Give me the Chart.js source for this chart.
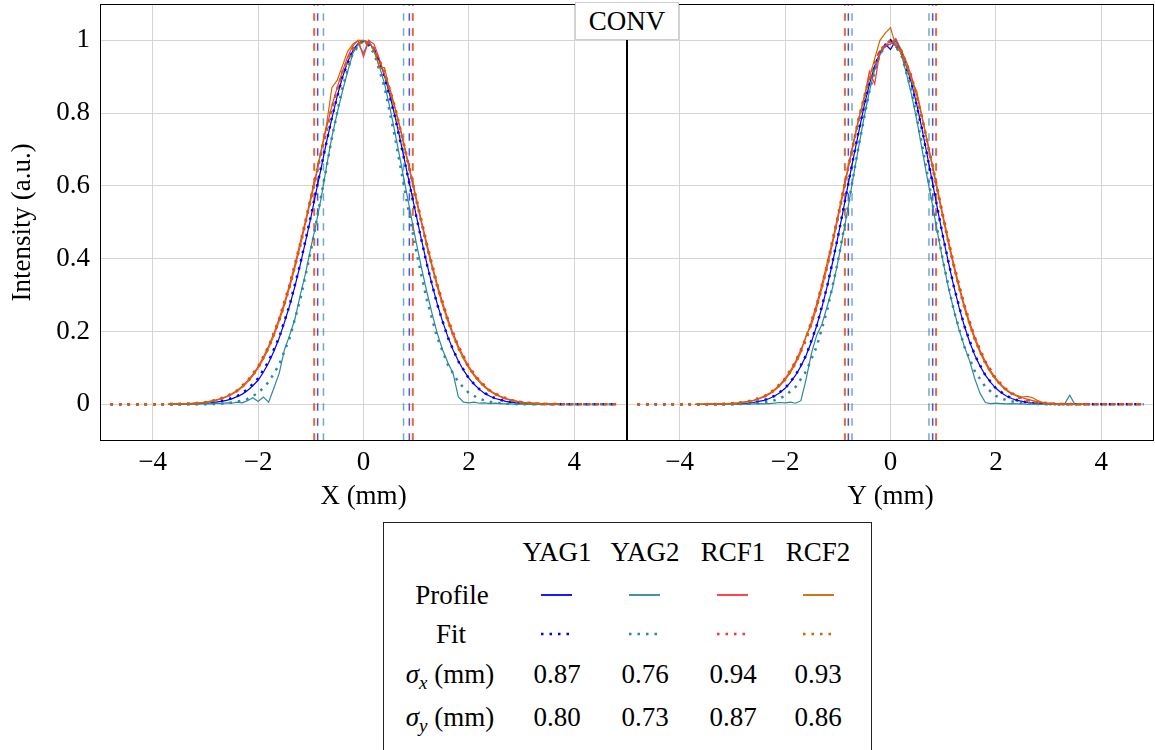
<!DOCTYPE html>
<html><head><meta charset="utf-8">
<script src="https://cdn.jsdelivr.net/npm/chart.js@4.4.1/dist/chart.umd.min.js"></script>
<style>
html,body{margin:0;padding:0;background:#fff;width:1155px;height:750px;overflow:hidden;font-family:'Liberation Serif','DejaVu Serif','Noto Serif',serif;color:#000;}
.wrap{position:absolute;top:0;}
#conv{position:absolute;left:575px;top:2px;width:104px;height:38px;box-sizing:border-box;background:#fff;border:1px solid #d0d0d0;font-size:27px;line-height:36px;text-align:center;}
#legend{position:absolute;left:383px;top:522px;width:489px;height:240px;box-sizing:border-box;border:1px solid #222;background:#fff;}
.cell{position:absolute;transform:translate(-50%,-50%);white-space:nowrap;font-size:27px;line-height:1;}
.sub{font-size:19px;position:relative;top:6px;font-style:italic;}
svg.s{position:absolute;overflow:visible;}
</style></head><body>
<div class="wrap" style="left:0;width:627px;height:520px"><canvas id="c1" width="627" height="520"></canvas></div>
<div class="wrap" style="left:627px;width:528px;height:520px"><canvas id="c2" width="528" height="520"></canvas></div>
<div id="conv">CONV</div>
<div id="legend"></div>
<script>
// ---------- data ----------
const xTicks = [-4, -2, 0, 2, 4];
const xTickLabels = ['\u22124', '\u22122', '0', '2', '4'];
const yTicks = [0, 0.2, 0.4, 0.6, 0.8, 1];
const yTickLabels = ['0', '0.2', '0.4', '0.6', '0.8', '1'];
const seriesNames = ['YAG1', 'YAG2', 'RCF1', 'RCF2'];
const sigmaX = [0.87, 0.76, 0.94, 0.93];
const sigmaY = [0.80, 0.73, 0.87, 0.86];

const profileXs = [-3.7,-3.6,-3.5,-3.4,-3.3,-3.2,-3.1,-3.0,-2.9,-2.8,
 -2.7,-2.6,-2.5,-2.4,-2.3,-2.2,-2.1,-2.0,-1.9,-1.8,
 -1.7,-1.6,-1.5,-1.4,-1.3,-1.2,-1.1,-1.0,-0.9,-0.8,
 -0.7,-0.6,-0.5,-0.4,-0.3,-0.2,-0.1,0,0.1,0.2,
 0.3,0.4,0.5,0.6,0.7,0.8,0.9,1.0,1.1,1.2,
 1.3,1.4,1.5,1.6,1.7,1.8,1.9,2.0,2.1,2.2,
 2.3,2.4,2.5,2.6,2.7,2.8,2.9,3.0,3.1,3.2,
 3.3,3.4,3.5,3.6,3.7];

// X profiles
const yag1ProfileX = [0,0,0,0,.001,.001,.002,.003,.004,.006,
 .008,.011,.015,.021,.028,.038,.051,.066,.088,.114,
 .146,.182,.225,.272,.325,.384,.447,.512,.583,.652,
 .722,.786,.846,.898,.942,.972,.992,1.0,.995,.976,
 .944,.902,.849,.790,.725,.656,.588,.519,.452,.388,
 .329,.276,.228,.186,.149,.119,.093,.072,.055,.041,
 .030,.022,.016,.012,.008,.006,.004,.003,.002,.001,
 .001,0,0,0,0];
const yag2ProfileX = [0,0,.001,0,.001,0,.001,.002,.001,.003,
 .002,.004,.003,.006,.004,.010,.018,.008,.020,.006,
 .045,.085,.150,.190,.235,.300,.360,.430,.495,.570,
 .655,.735,.800,.860,.915,.965,.990,.965,1.0,.970,
 .930,.880,.815,.745,.670,.595,.520,.445,.375,.310,
 .250,.195,.150,.115,.085,.020,.006,.004,.006,.003,
 .004,.002,.003,.002,.001,.001,0,.001,0,0,
 0,0,0,0,0];
const rcf1ProfileX = [.001,.001,.001,.002,.002,.003,.004,.006,.009,.012,
 .016,.022,.029,.038,.050,.065,.082,.104,.130,.160,
 .195,.236,.280,.330,.385,.445,.505,.570,.632,.700,
 .760,.820,.870,.915,.955,.985,1.0,.955,1.0,.990,
 .950,.905,.868,.815,.758,.696,.632,.568,.504,.443,
 .384,.330,.280,.235,.195,.160,.130,.104,.082,.065,
 .050,.038,.029,.022,.016,.012,.009,.006,.004,.003,
 .002,.002,.001,.001,.001];
const rcf2ProfileX = [.001,.001,.001,.001,.002,.003,.004,.005,.008,.011,
 .015,.020,.027,.036,.047,.061,.078,.099,.124,.154,
 .188,.228,.272,.322,.376,.435,.497,.561,.626,.700,
 .770,.870,.890,.930,.970,.990,1.0,1.0,.995,.975,
 .925,.925,.860,.812,.753,.691,.626,.561,.497,.435,
 .376,.322,.272,.228,.188,.154,.124,.099,.078,.061,
 .047,.036,.027,.020,.015,.011,.008,.005,.004,.003,
 .002,.001,.001,.001,.001];

// Y profiles
const yag1ProfileY = [0,0,0,0,0,.001,.001,.001,.002,.002,
 .003,.005,.008,.011,.016,.023,.032,.044,.060,.080,
 .105,.135,.172,.216,.267,.325,.389,.458,.531,.607,
 .680,.750,.820,.880,.930,.965,.990,.975,1.0,.970,
 .930,.882,.823,.755,.682,.607,.531,.458,.389,.325,
 .267,.216,.172,.135,.105,.080,.060,.044,.032,.023,
 .016,.011,.008,.005,.003,.002,.001,.001,0,0,
 0,0,0,0,0];
const yag2ProfileY = [0,0,0,0,.001,0,0,.001,0,.001,
 0,.001,.002,.001,.002,.003,.005,.004,.006,.003,
 .010,.070,.140,.190,.220,.270,.320,.390,.465,.545,
 .630,.710,.790,.860,.920,.960,.985,.990,1.0,.965,
 .910,.850,.780,.700,.620,.545,.465,.390,.320,.260,
 .205,.160,.120,.070,.030,.005,.002,.003,.002,.001,
 .002,.001,.001,0,.001,0,0,0,0,0,
 0,.025,0,0,0];
const rcf1ProfileY = [0,0,.001,.001,.001,.001,.002,.003,.004,.006,
 .008,.011,.016,.022,.030,.041,.054,.071,.092,.118,
 .150,.186,.228,.276,.330,.390,.450,.517,.586,.655,
 .723,.788,.840,.915,.880,.970,.985,.990,1.005,.975,
 .942,.900,.848,.788,.723,.655,.586,.517,.450,.386,
 .327,.274,.226,.184,.148,.118,.092,.071,.054,.041,
 .030,.022,.018,.014,.010,.006,.004,.003,.002,.001,
 .001,.001,0,0,0];
const rcf2ProfileY = [0,0,.001,.001,.001,.001,.002,.002,.003,.005,
 .007,.010,.015,.020,.028,.038,.051,.067,.087,.112,
 .142,.190,.218,.266,.319,.378,.441,.509,.578,.649,
 .718,.784,.845,.897,.950,1.0,1.02,1.035,.985,.965,
 .930,.890,.860,.790,.718,.649,.578,.509,.441,.378,
 .319,.266,.218,.177,.142,.112,.087,.067,.051,.038,
 .028,.025,.020,.022,.018,.010,.004,.002,.001,.001,
 0,0,0,0,0];

const fitXs = [-4.8,-4.6,-4.4,-4.2,-4.0,-3.8,-3.6,-3.4,-3.2,-3.0,-2.8,-2.6,-2.4,-2.2,-2.0,-1.8,-1.6,-1.4,-1.2,-1.0,-0.8,-0.6,-0.4,-0.2,
 0,0.2,0.4,0.6,0.8,1.0,1.2,1.4,1.6,1.8,2.0,2.2,2.4,2.6,2.8,3.0,3.2,3.4,3.6,3.8,4.0,4.2,4.4,4.6,4.8];

const yag1FitX = [0,0,0,0,0,0,0,.001,.001,.003,.006,.012,.022,.041,.071,.118,.184,.274,.386,.517,.655,.788,.900,.974,
 1,.974,.900,.788,.655,.517,.386,.274,.184,.118,.071,.041,.022,.012,.006,.003,.001,.001,0,0,0,0,0,0,0];
const yag2FitX = [0,0,0,0,0,0,0,0,0,0,.001,.003,.007,.015,.031,.061,.109,.183,.288,.421,.575,.732,.871,.966,
 1,.966,.871,.732,.575,.421,.288,.183,.109,.061,.031,.015,.007,.003,.001,0,0,0,0,0,0,0,0,0,0];
const rcf1FitX = [0,0,0,0,0,0,.001,.001,.003,.006,.012,.022,.038,.065,.104,.160,.235,.330,.443,.568,.696,.816,.913,.978,
 1,.978,.913,.816,.696,.568,.443,.330,.235,.160,.104,.065,.038,.022,.012,.006,.003,.001,.001,0,0,0,0,0,0];
const rcf2FitX = [0,0,0,0,0,0,.001,.001,.003,.006,.011,.020,.036,.061,.099,.154,.228,.322,.435,.561,.691,.812,.912,.977,
 1,.977,.912,.812,.691,.561,.435,.322,.228,.154,.099,.061,.036,.020,.011,.006,.003,.001,.001,0,0,0,0,0,0];

const yag1FitY = [0,0,0,0,0,0,0,0,0,.001,.002,.005,.011,.023,.044,.080,.135,.216,.325,.458,.607,.755,.882,.969,
 1,.969,.882,.755,.607,.458,.325,.216,.135,.080,.044,.023,.011,.005,.002,.001,0,0,0,0,0,0,0,0,0];
const yag2FitY = [0,0,0,0,0,0,0,0,0,0,.001,.002,.005,.011,.023,.048,.091,.159,.259,.391,.549,.713,.861,.963,
 1,.963,.861,.713,.549,.391,.259,.159,.091,.048,.023,.011,.005,.002,.001,0,0,0,0,0,0,0,0,0,0];
const rcf1FitY = [0,0,0,0,0,0,0,.001,.001,.003,.006,.012,.022,.041,.071,.118,.184,.274,.386,.517,.655,.788,.900,.974,
 1,.974,.900,.788,.655,.517,.386,.274,.184,.118,.071,.041,.022,.012,.006,.003,.001,.001,0,0,0,0,0,0,0];
const rcf2FitY = [0,0,0,0,0,0,0,0,.001,.002,.005,.010,.020,.038,.067,.112,.177,.266,.378,.509,.649,.784,.897,.973,
 1,.973,.897,.784,.649,.509,.378,.266,.177,.112,.067,.038,.020,.010,.005,.002,.001,0,0,0,0,0,0,0,0];

// ---------- styles ----------
const colors = ['#0000ff', '#2b8a9e', '#ff3333', '#cc6600'];
const dashColors = ['rgba(0,0,255,0.7)', 'rgba(43,138,158,0.7)', 'rgba(255,51,51,0.75)', 'rgba(204,102,0,0.75)'];
const FONT = "'Liberation Serif', 'DejaVu Serif', 'Noto Serif', serif";
Chart.defaults.font.family = FONT;
Chart.defaults.font.size = 27;
Chart.defaults.color = '#000';

function pts(xs, ys) { return xs.map((x, i) => ({x: x, y: ys[i]})); }

function buildDatasets(profiles, fits, sigmas) {
  const ds = [];
  sigmas.forEach((s, i) => {
    [-s, s].forEach(v => ds.push({
      data: [{x: v, y: -0.1}, {x: v, y: 1.1}],
      borderColor: dashColors[i], borderWidth: 1.5, borderDash: [7.5, 7.5],
      pointRadius: 0, showLine: true, fill: false
    }));
  });
  profiles.forEach((p, i) => {
    ds.push({data: pts(profileXs, p), borderColor: colors[i], borderWidth: 1.2,
      pointRadius: 0, showLine: true, fill: false, tension: 0});
    ds.push({data: pts(fitXs, fits[i]), borderColor: colors[i], borderWidth: 2.5,
      borderDash: [2.5, 6], pointRadius: 0, showLine: true, fill: false, tension: 0});
  });
  const n = ds.length;
  ds.forEach((d, i) => { d.order = n - i; });
  return ds;
}

const framePlugin = {
  id: 'frame',
  afterDatasetsDraw(chart) {
    const a = chart.chartArea, c = chart.ctx;
    c.save();
    c.strokeStyle = '#000'; c.lineWidth = 1;
    const l = Math.round(a.left), t = Math.round(a.top), r = Math.round(a.right), b = Math.round(a.bottom);
    c.strokeRect(l + 0.5, t + 0.5, r - l - 1, b - t - 1);
    c.restore();
  }
};

const gridOpts = {color: '#d4d4d4', lineWidth: 1, drawTicks: false};
function zeroPad(s) { s.paddingTop = 0; s.paddingBottom = 0; s.paddingLeft = 0; s.paddingRight = 0; }

function makeChart(id, profiles, fits, sigmas, xTitle, showY, padRight) {
  return new Chart(document.getElementById(id), {
    type: 'scatter',
    data: {datasets: buildDatasets(profiles, fits, sigmas)},
    plugins: [framePlugin],
    options: {
      responsive: false, animation: false,
      layout: {padding: {top: 4, left: 0, right: padRight, bottom: 0}},
      plugins: {legend: {display: false}, tooltip: {enabled: false}},
      scales: {
        x: {
          type: 'linear', min: -5, max: 5,
          afterBuildTicks: s => { s.ticks = xTicks.map(v => ({value: v})); },
          afterFit: s => { s.height = 79.3; zeroPad(s); },
          grid: gridOpts, border: {display: false},
          ticks: {padding: 6, maxRotation: 0, autoSkip: false, color: '#000',
            callback: (v, i) => xTickLabels[i]},
          title: {display: true, text: xTitle, color: '#000', padding: {top: 0, bottom: 7}}
        },
        y: {
          type: 'linear', min: -0.1, max: 1.1,
          afterBuildTicks: s => { s.ticks = yTicks.map(v => ({value: v})); },
          afterFit: s => { s.width = showY ? 100 : 0; zeroPad(s); },
          grid: gridOpts, border: {display: false},
          ticks: {display: showY, padding: 10, color: '#000', callback: (v, i) => yTickLabels[i]},
          title: {display: showY, text: 'Intensity (a.u.)', color: '#000', padding: {top: 7, bottom: 0}}
        }
      }
    }
  });
}

makeChart('c1', [yag1ProfileX, yag2ProfileX, rcf1ProfileX, rcf2ProfileX],
  [yag1FitX, yag2FitX, rcf1FitX, rcf2FitX], sigmaX, 'X (mm)', true, 0);
makeChart('c2', [yag1ProfileY, yag2ProfileY, rcf1ProfileY, rcf2ProfileY],
  [yag1FitY, yag2FitY, rcf1FitY, rcf2FitY], sigmaY, 'Y (mm)', false, 1);

// ---------- legend table ----------
const L = document.getElementById('legend');
const LX = 383, LY = 522;
const colX = [557, 645, 733, 818];
const lineX0 = [541, 629, 717, 803];
function cell(html, cx, cy) {
  const d = document.createElement('div');
  d.className = 'cell';
  d.style.left = (cx - LX - 1) + 'px';
  d.style.top = (cy - LY - 1) + 'px';
  d.innerHTML = html;
  L.appendChild(d);
}
function sample(x0, y, color, dotted) {
  const ns = 'http://www.w3.org/2000/svg';
  const svg = document.createElementNS(ns, 'svg');
  svg.setAttribute('class', 's');
  svg.setAttribute('width', '32'); svg.setAttribute('height', '6');
  svg.style.left = (x0 - LX - 1) + 'px';
  svg.style.top = (y - 3 - LY - 1) + 'px';
  const ln = document.createElementNS(ns, 'line');
  ln.setAttribute('x1', '0'); ln.setAttribute('x2', '31');
  ln.setAttribute('y1', '3'); ln.setAttribute('y2', '3');
  ln.setAttribute('stroke', color);
  ln.setAttribute('stroke-width', dotted ? '2.6' : '1.8');
  if (dotted) ln.setAttribute('stroke-dasharray', '2.5 6');
  svg.appendChild(ln);
  L.appendChild(svg);
}
seriesNames.forEach((n, i) => {
  cell(n, colX[i], 552);
  sample(lineX0[i], 595, colors[i], false);
  sample(lineX0[i], 634, colors[i], true);
  cell(sigmaX[i].toFixed(2), colX[i], 674);
  cell(sigmaY[i].toFixed(2), colX[i], 717);
});
cell('Profile', 452, 595);
cell('Fit', 451, 634);
cell('<i>\u03c3</i><span class="sub">x</span>&nbsp;(mm)', 450, 674);
cell('<i>\u03c3</i><span class="sub">y</span>&nbsp;(mm)', 450, 717);
</script>
</body></html>
